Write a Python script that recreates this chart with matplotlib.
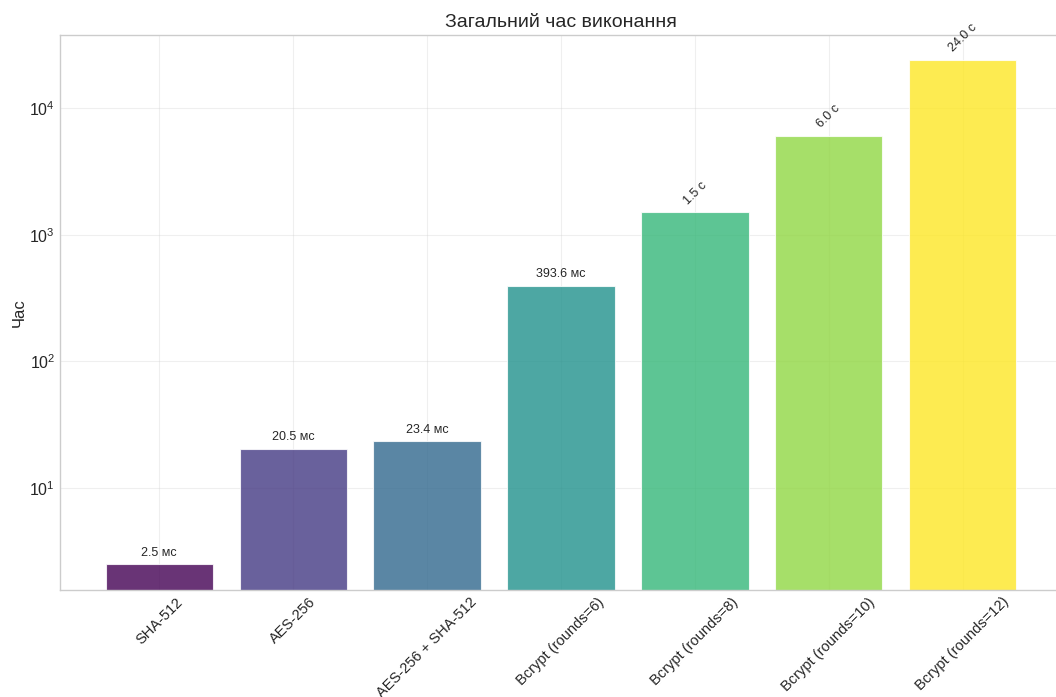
import numpy as np
import matplotlib
matplotlib.use('Agg')
import matplotlib.pyplot as plt

plt.style.use('seaborn-v0_8-whitegrid')
plt.rcParams['font.family'] = ['Liberation Sans', 'DejaVu Sans']

methods = ['SHA-512', 'AES-256', 'AES-256 + SHA-512', 'Bcrypt (rounds=6)',
           'Bcrypt (rounds=8)', 'Bcrypt (rounds=10)', 'Bcrypt (rounds=12)']
times_ms = [2.5, 20.5, 23.4, 393.6, 1500.0, 6000.0, 24000.0]

def fmt(ms):
    if ms < 1000:
        return f'{ms:.1f} мс'
    return f'{ms / 1000:.1f} с'

fig = plt.figure(figsize=(10.56, 6.97), dpi=100)
ax = fig.add_axes([60 / 1056, 107 / 697, 1002 / 1056, 555 / 697])

colors = plt.cm.viridis(np.linspace(0, 1, len(methods)))
x = np.arange(len(methods))
bars = ax.bar(x, times_ms, color=colors, alpha=0.8, edgecolor='white', linewidth=0.8)
ax.set_yscale('log')
ax.set_ylim(1.57, 37700)

for b, v in zip(bars, times_ms):
    rot = 45 if v >= 1000 else 0
    ax.annotate(fmt(v), (b.get_x() + b.get_width() / 2, v),
                xytext=(0, 4), textcoords='offset points',
                ha='center', va='bottom', fontsize=9, rotation=rot,
                color='#262626')

ax.set_xticks(x)
ax.set_xticklabels(methods, rotation=45, ha='center', fontsize=10.5)
ax.tick_params(axis='y', labelsize=11.5)
ax.set_ylabel('Час', fontsize=12, labelpad=2)
ax.set_title('Загальний час виконання', fontsize=14)
ax.grid(True, alpha=0.3)
ax.minorticks_off()

fig.savefig('out.png', dpi=100)
